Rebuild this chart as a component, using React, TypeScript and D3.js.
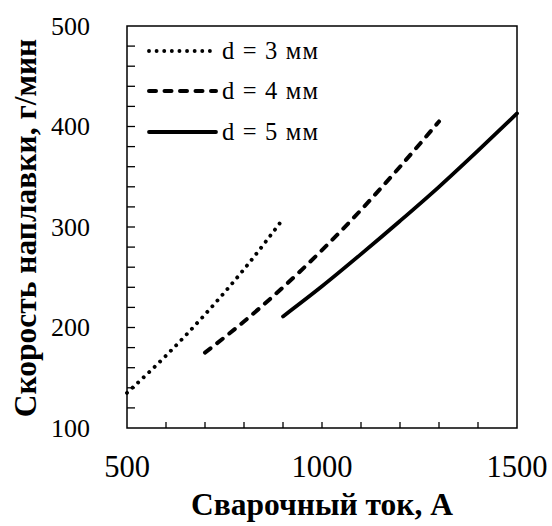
import React from "react";
import * as d3 from "d3";

const current3 = [500, 600, 700, 800, 900];
const rate3 = [135, 172, 213, 258, 308];
const current4 = [700, 800, 900, 1000, 1100, 1200, 1300];
const rate4 = [175, 206, 240, 277, 317, 360, 405];
const current5 = [900, 1000, 1100, 1200, 1300, 1400, 1500];
const rate5 = [211, 241, 273, 306, 340, 376, 413];
const seriesNames = ["d = 3 мм", "d = 4 мм", "d = 5 мм"];
const xTickLabels = [500, 1000, 1500];
const yTickLabels = [100, 200, 300, 400, 500];

const W = 552, H = 526;
const L = 127, R = 517, T = 26, B = 428;
const FONT = "Liberation Serif";

export default function App() {
  const x = d3.scaleLinear().domain([500, 1500]).range([L, R]);
  const y = d3.scaleLinear().domain([100, 500]).range([B, T]);
  const line = d3
    .line<[number, number]>()
    .x((d) => x(d[0]))
    .y((d) => y(d[1]))
    .curve(d3.curveMonotoneX);

  const series = [
    { xs: current3, ys: rate3, dash: "0.01 7.6", width: 3.9, cap: "round" },
    { xs: current4, ys: rate4, dash: "7 8.5", width: 4, cap: "round" },
    { xs: current5, ys: rate5, dash: "none", width: 3.8, cap: "round" },
  ];

  const xMinor = d3.range(600, 1500, 100);
  const yMinor = d3.range(120, 500, 20);
  const legendY = [51, 91, 132];
  const ts = { fontFamily: FONT };

  return (
    <svg
      width={W}
      height={H}
      style={{ position: "absolute", left: 0, top: 0, background: "#fff" }}
    >
      <rect x={0} y={0} width={W} height={H} fill="#fff" />
      {xMinor.map((v) => (
        <line key={"xt" + v} x1={x(v)} x2={x(v)} y1={B} y2={B - 6} stroke="#000" strokeWidth={1.3} />
      ))}
      {yMinor.map((v) => (
        <line key={"yt" + v} x1={L} x2={L + 8} y1={y(v)} y2={y(v)} stroke="#000" strokeWidth={1.3} />
      ))}
      <rect x={L} y={T} width={R - L} height={B - T} fill="none" stroke="#000" strokeWidth={1.5} />
      {yTickLabels.map((v) => (
        <text key={"yl" + v} style={ts} x={90} y={y(v)} dy="0.34em" textAnchor="end" fontSize={26}>
          {v}
        </text>
      ))}
      {xTickLabels.map((v) => (
        <text key={"xl" + v} style={ts} x={x(v)} y={477} textAnchor="middle" fontSize={30.5}>
          {v}
        </text>
      ))}
      <text style={ts} x={322} y={515} textAnchor="middle" fontSize={31.5} fontWeight="bold">
        Сварочный ток, А
      </text>
      <text
        style={ts}
        transform={`translate(36,228) rotate(-90)`}
        textAnchor="middle"
        fontSize={31.5}
        fontWeight="bold"
      >
        Скорость наплавки, г/мин
      </text>
      {series.map((s, i) => (
        <path
          key={"s" + i}
          d={line(s.xs.map((v, j) => [v, s.ys[j]] as [number, number])) || ""}
          fill="none"
          stroke="#000"
          strokeWidth={s.width}
          strokeDasharray={s.dash}
          strokeLinecap={s.cap as any}
        />
      ))}
      {series.map((s, i) => (
        <g key={"lg" + i}>
          <line
            x1={149}
            x2={216}
            y1={legendY[i]}
            y2={legendY[i]}
            stroke="#000"
            strokeWidth={s.width}
            strokeDasharray={s.dash}
            strokeLinecap={s.cap as any}
          />
          <text
            style={ts}
            x={222}
            y={legendY[i]}
            dy="0.33em"
            fontSize={24.5}
            textLength={96}
            lengthAdjust="spacing"
          >
            {seriesNames[i]}
          </text>
        </g>
      ))}
    </svg>
  );
}
